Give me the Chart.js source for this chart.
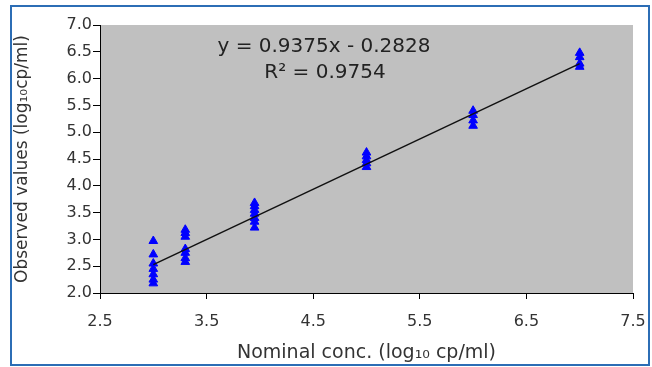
<!DOCTYPE html>
<html>
<head>
<meta charset="utf-8">
<script src="https://cdn.jsdelivr.net/npm/chart.js@4/dist/chart.umd.min.js"></script>
<style>
  html, body { margin: 0; padding: 0; background: #fff; }
  #wrap { position: relative; width: 652px; height: 367px; }
  #frame { position: absolute; left: 10px; top: 5px; width: 636px; height: 357px; border: 2px solid #2c6db5; pointer-events: none; }
</style>
</head>
<body>
<div id="wrap">
  <canvas id="c" width="652" height="367"></canvas>
  <div id="frame"></div>
</div>
<script>
const nominalX = [
  3.0, 3.0, 3.0, 3.0, 3.0, 3.0, 3.0,
  3.3, 3.3, 3.3, 3.3, 3.3, 3.3, 3.3,
  3.95, 3.95, 3.95, 3.95, 3.95, 3.95, 3.95,
  5.0, 5.0, 5.0, 5.0, 5.0,
  6.0, 6.0, 6.0, 6.0,
  7.0, 7.0, 7.0, 7.0
];
const observedY = [
  2.97, 2.72, 2.55, 2.45, 2.35, 2.25, 2.18,
  3.18, 3.12, 3.05, 2.82, 2.75, 2.65, 2.58,
  3.68, 3.62, 3.55, 3.48, 3.40, 3.33, 3.22,
  4.62, 4.55, 4.48, 4.42, 4.35,
  5.40, 5.32, 5.22, 5.12,
  6.48, 6.40, 6.28, 6.22
];
// Trendline endpoints
const trendX = [3.0, 7.0];
const trendY = [2.53, 6.28];
const equationLines = ["y = 0.9375x - 0.2828", "R\u00B2 = 0.9754"];
const xTicks = [2.5, 3.5, 4.5, 5.5, 6.5, 7.5];
const yTicks = [2.0, 2.5, 3.0, 3.5, 4.0, 4.5, 5.0, 5.5, 6.0, 6.5, 7.0];

const pts = nominalX.map((x, i) => ({ x: x, y: observedY[i] }));
const trend = trendX.map((x, i) => ({ x: x, y: trendY[i] }));
const FONT = '"DejaVu Sans", Verdana, sans-serif';

const bgPlugin = {
  id: 'plotBg',
  beforeDraw(chart) {
    const a = chart.chartArea, ctx = chart.ctx;
    ctx.save();
    ctx.fillStyle = '#c0c0c0';
    ctx.fillRect(a.left, a.top, a.right - a.left, a.bottom - a.top);
    ctx.restore();
  }
};
const eqPlugin = {
  id: 'eqText',
  afterDatasetsDraw(chart) {
    const ctx = chart.ctx;
    ctx.save();
    ctx.fillStyle = '#222';
    ctx.font = '20px ' + FONT;
    ctx.textAlign = 'center';
    ctx.textBaseline = 'middle';
    ctx.fillText(equationLines[0], 324, 47);
    ctx.fillText(equationLines[1], 325, 73);
    ctx.restore();
  }
};

new Chart(document.getElementById('c'), {
  type: 'scatter',
  data: {
    datasets: [
      {
        label: 'Trend',
        data: trend,
        showLine: true,
        borderColor: '#111',
        borderWidth: 1.5,
        pointRadius: 0,
        fill: false
      },
      {
        label: 'Observed',
        data: pts,
        pointStyle: 'triangle',
        pointRadius: 5,
        backgroundColor: '#0000ff',
        borderColor: '#0000ff',
        borderWidth: 1
      }
    ]
  },
  options: {
    responsive: false,
    animation: false,
    layout: { padding: { left: 0, top: 25, right: 19, bottom: 0 } },
    plugins: { legend: { display: false }, tooltip: { enabled: false } },
    scales: {
      x: {
        type: 'linear',
        min: 2.5, max: 7.5,
        afterBuildTicks(scale) { scale.ticks = xTicks.map(v => ({ value: v })); },
        afterFit(scale) { scale.height = 74; scale.paddingRight = 0; scale.paddingLeft = 0; },
        ticks: {
          color: '#333',
          font: { family: FONT, size: 16 },
          padding: 13,
          maxRotation: 0,
          callback: v => Number(v).toFixed(1)
        },
        grid: { display: true, drawOnChartArea: false, drawTicks: true, tickLength: 6, color: '#000' },
        border: { display: true, color: '#000', width: 1 },
        title: {
          display: true,
          text: 'Nominal conc. (log\u2081\u2080 cp/ml)',
          color: '#333',
          font: { family: FONT, size: 19 },
          padding: { top: 4, bottom: 3 }
        }
      },
      y: {
        type: 'linear',
        min: 2.0, max: 7.0,
        afterBuildTicks(scale) { scale.ticks = yTicks.map(v => ({ value: v })); },
        afterFit(scale) { scale.width = 100; scale.paddingTop = 0; scale.paddingBottom = 0; },
        ticks: {
          color: '#333',
          font: { family: FONT, size: 16 },
          padding: 1,
          callback: v => Number(v).toFixed(1)
        },
        grid: { display: true, drawOnChartArea: false, drawTicks: true, tickLength: 7, color: '#000' },
        border: { display: true, color: '#000', width: 1 },
        title: {
          display: true,
          text: 'Observed values (log\u2081\u2080cp/ml)',
          color: '#333',
          font: { family: FONT, size: 17 },
          padding: { top: 12, bottom: 0 }
        }
      }
    }
  },
  plugins: [bgPlugin, eqPlugin]
});
</script>
</body>
</html>
